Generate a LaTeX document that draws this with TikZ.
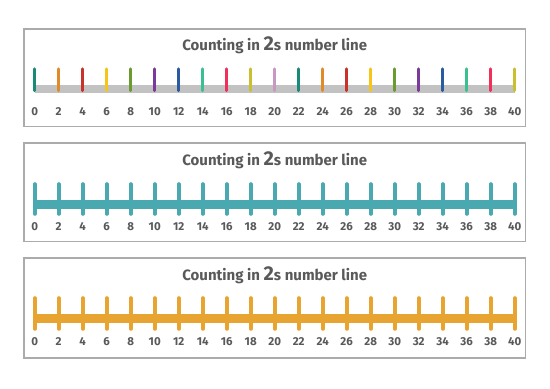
\documentclass[tikz,border=0pt]{standalone}
\usepackage{fontspec}
\setmainfont{Fira Sans}
\begin{document}
\begin{tikzpicture}[x=1pt,y=-1pt,
  panel/.style={draw=black!33,line width=1.3pt},
  title/.style={text=black!65,font=\bfseries\fontsize{15}{17}\selectfont,anchor=base},
  num/.style={text=black!65,font=\bfseries\fontsize{11.5}{13}\selectfont,anchor=base},
  tick/.style={line width=3.2pt,line cap=round},
  bar/.style={line width=8.5pt}]
\useasboundingbox (0,0) rectangle (550,389);
\fill[white] (0,0) rectangle (550,389);
\definecolor{cA}{HTML}{1A8A78}
\definecolor{cB}{HTML}{E08A2A}
\definecolor{cC}{HTML}{C8322A}
\definecolor{cD}{HTML}{F5C518}
\definecolor{cE}{HTML}{6A9A30}
\definecolor{cF}{HTML}{7A3A9A}
\definecolor{cG}{HTML}{2A5AA0}
\definecolor{cH}{HTML}{3AC090}
\definecolor{cI}{HTML}{F0305A}
\definecolor{cJ}{HTML}{C8C030}
\definecolor{cK}{HTML}{C898C0}
\definecolor{tealbar}{HTML}{4AA8B0}
\definecolor{orangebar}{HTML}{E8A430}
\definecolor{graybar}{HTML}{C2C2C2}
% panels
\draw[panel] (24,29) rectangle (525.5,126.5);
\draw[panel] (24,143) rectangle (525.5,241.5);
\draw[panel] (24,258) rectangle (525.5,358);
% titles
\node[title] (t1) at (274.75,50.5) {Counting in {\fontsize{20}{21}\selectfont 2}s number line};
\node[title] (t2) at (274.75,165) {Counting in {\fontsize{20}{21}\selectfont 2}s number line};
\node[title] (t3) at (274.75,280) {Counting in {\fontsize{20}{21}\selectfont 2}s number line};
% panel 1
\draw[bar,graybar] (34.7,89.2) -- (514.7,89.2);
\foreach \i/\c in {0/cA,1/cB,2/cC,3/cD,4/cE,5/cF,6/cG,7/cH,8/cI,9/cJ,10/cK,11/cA,12/cB,13/cC,14/cD,15/cE,16/cF,17/cG,18/cH,19/cI,20/cJ}{
  \draw[tick,\c] (34.7+24*\i,69) -- (34.7+24*\i,90.5);
  \pgfmathtruncatemacro{\v}{2*\i}
  \node[num] (a\i) at (34.7+24*\i,115.5) {\v};
}
% panel 2
\draw[bar,tealbar] (34.7,204.6) -- (514.7,204.6);
\foreach \i in {0,...,20}{
  \draw[tick,tealbar,line width=3.6pt] (34.7+24*\i,184) -- (34.7+24*\i,214);
  \pgfmathtruncatemacro{\v}{2*\i}
  \node[num] (b\i) at (34.7+24*\i,230.5) {\v};
}
% panel 3
\draw[bar,orangebar] (34.7,318.5) -- (514.7,318.5);
\foreach \i in {0,...,20}{
  \draw[tick,orangebar,line width=3.6pt] (34.7+24*\i,298) -- (34.7+24*\i,329);
  \pgfmathtruncatemacro{\v}{2*\i}
  \node[num] (c\i) at (34.7+24*\i,345) {\v};
}
\end{tikzpicture}
\end{document}
